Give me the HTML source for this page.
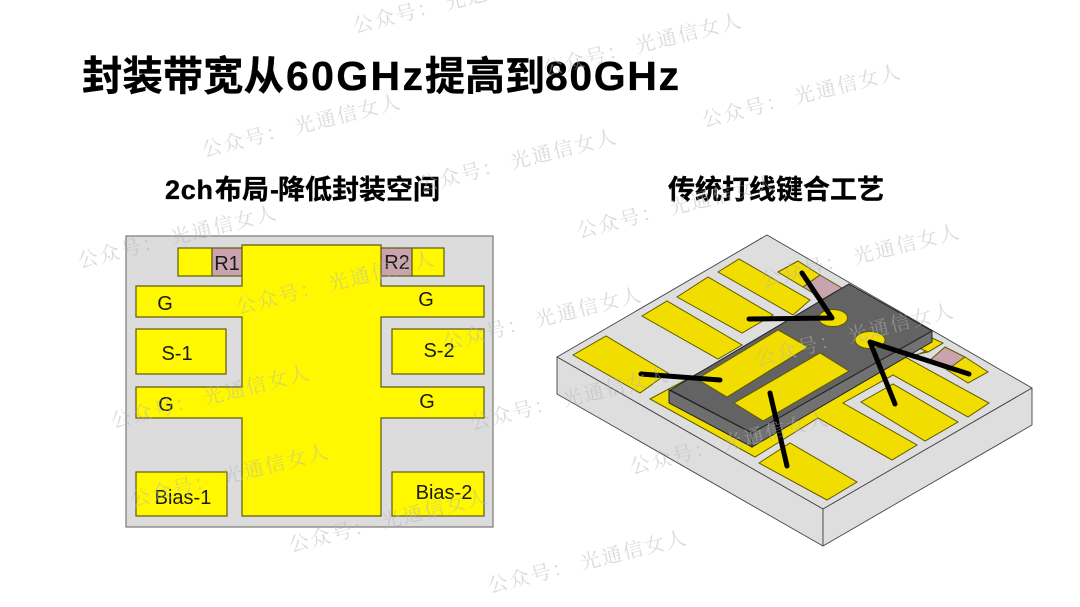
<!DOCTYPE html>
<html lang="zh">
<head>
<meta charset="utf-8">
<title>封装带宽从60GHz提高到80GHz</title>
<style>
html,body{margin:0;padding:0;background:#fff;width:1080px;height:607px;overflow:hidden}
svg{display:block}
text{font-family:"Liberation Sans","Noto Sans CJK SC",sans-serif}
.h{font-weight:700;fill:#000;stroke:#000;stroke-width:.35}
.l{font-size:20px;fill:#1a1a1a;text-anchor:middle}
.w{font-family:"Noto Serif CJK SC","Noto Sans CJK SC",serif;font-size:20px;fill:#b5b5b5;fill-opacity:.5;letter-spacing:2px}
.y2d{fill:#fff800;stroke:#5f5a10;stroke-width:1.2}
.p2d{fill:#c9a3ad;stroke:#5f5a10;stroke-width:1.2}
.y3{fill:#f2dd00;stroke:#5f5a00;stroke-width:1}
.g3{fill:#dedede;stroke:#444;stroke-width:.9;stroke-linejoin:round}
.wire{stroke:#000;stroke-width:5;stroke-linecap:round;stroke-linejoin:round;fill:none}
</style>
</head>
<body>
<svg width="1080" height="607" viewBox="0 0 1080 607" xmlns="http://www.w3.org/2000/svg">
<rect width="1080" height="607" fill="#fff"/>

<text class="h" x="82" y="90" font-size="40.4">封装带宽从</text>
<text class="h" x="286" y="90" font-size="41" textLength="137" lengthAdjust="spacing">60GHz</text>
<text class="h" x="425" y="90" font-size="40">提高到</text>
<text class="h" x="545" y="90" font-size="41" textLength="134" lengthAdjust="spacing">80GHz</text>

<text class="h" x="165" y="199" font-size="27" textLength="48" lengthAdjust="spacing">2ch</text>
<text class="h" x="215" y="199" font-size="27">布局</text>
<text class="h" x="270" y="199" font-size="27">-</text>
<text class="h" x="278" y="199" font-size="27">降低封装空间</text>
<text class="h" x="668" y="199" font-size="27">传统打线键合工艺</text>

<!-- left diagram -->
<rect x="126" y="236" width="367" height="291" fill="#dcdcdc" stroke="#777" stroke-width="1.2"/>
<rect class="y2d" x="178" y="248" width="34" height="28"/>
<rect class="p2d" x="212" y="248" width="30" height="28"/>
<rect class="p2d" x="381" y="248" width="31" height="28"/>
<rect class="y2d" x="412" y="248" width="32" height="28"/>
<polygon class="y2d" points="242,245 381,245 381,286 484,286 484,317 381,317 381,387 484,387 484,418 381,418 381,516 242,516 242,418 136,418 136,387 242,387 242,317 136,317 136,286 242,286"/>
<rect class="y2d" x="136" y="329" width="90" height="45"/>
<rect class="y2d" x="392" y="329" width="92" height="45"/>
<rect class="y2d" x="136" y="472" width="91" height="44"/>
<rect class="y2d" x="392" y="472" width="92" height="44"/>
<text class="l" x="227" y="270">R1</text>
<text class="l" x="397" y="269">R2</text>
<text class="l" x="165" y="310">G</text>
<text class="l" x="426" y="306">G</text>
<text class="l" x="177" y="360">S-1</text>
<text class="l" x="439" y="357">S-2</text>
<text class="l" x="166" y="411">G</text>
<text class="l" x="427" y="408">G</text>
<text class="l" x="183" y="504">Bias-1</text>
<text class="l" x="444" y="499">Bias-2</text>

<!-- right diagram: slab -->
<polygon class="g3" points="767,235 1032,388 823,509 557,357"/>
<polygon class="g3" points="557,357 823,509 823,546 557,394"/>
<polygon class="g3" points="823,509 1032,388 1032,425 823,546"/>

<!-- pads -->
<polygon class="y3" points="573,355 606,336 668,373 640,393"/>
<polygon class="y3" points="642,316 667,301 742,345 718,359"/>
<polygon class="y3" points="677,297 708,277 773,315 742,333"/>
<polygon class="y3" points="718,272 739,259 810,300 793,315"/>
<polygon class="y3" points="778,272 798,261 820,275 803,287"/>
<polygon points="820,275 842,288 823,299 803,287" fill="#c9a3ad" stroke="#5f5a00" stroke-width="1"/>
<polygon class="y3" points="650,399 760,340 917,355 943,343 928,352 905,357 989,403 968,417 893,375 843,403 917,445 892,460 818,418 755,457"/>
<polygon points="945,347 965,357 949,370 928,362" fill="#c9a3ad" stroke="#5f5a00" stroke-width="1"/>
<polygon class="y3" points="965,357 988,372 968,383 947,370"/>
<polygon class="y3" points="932,338 943,343 928,352 917,347"/>
<polygon class="y3" points="861,402 893,384 958,422 925,441"/>
<polygon class="y3" points="759,463 790,443 857,482 827,500"/>

<!-- chip -->
<polygon points="669,390 752,433 752,447 669,403" fill="#6e6e6e" stroke="#222" stroke-width="1"/>
<polygon points="752,433 932,331 932,342 752,447" fill="#727272" stroke="#222" stroke-width="1"/>
<polygon points="670,390 849,284 932,331 752,433" fill="#636363" stroke="#222" stroke-width="1"/>
<polygon class="y3" points="697,379 778,330 808,347 727,397"/>
<polygon class="y3" points="734,403 820,353 849,371 763,421"/>
<ellipse class="y3" cx="833" cy="318" rx="14.5" ry="8.5"/>
<ellipse class="y3" cx="870" cy="340" rx="15" ry="8.5"/>

<!-- wires -->
<path class="wire" d="M641,374 L720,380"/>
<path class="wire" d="M749,319 L832,318 L802,273"/>
<path class="wire" d="M969,374 L870,342 L895,404"/>
<path class="wire" d="M770,393 L787,466"/>

<!-- watermarks -->
<g>
<text class="w" transform="translate(355,33) rotate(-14)">公众号： 光通信女人</text>
<text class="w" transform="translate(545,76) rotate(-14)">公众号： 光通信女人</text>
<text class="w" transform="translate(204,157) rotate(-14)">公众号： 光通信女人</text>
<text class="w" transform="translate(704,127) rotate(-14)">公众号： 光通信女人</text>
<text class="w" transform="translate(420,192) rotate(-14)">公众号： 光通信女人</text>
<text class="w" transform="translate(579,238) rotate(-14)">公众号： 光通信女人</text>
<text class="w" transform="translate(763,287) rotate(-14)">公众号： 光通信女人</text>
<text class="w" transform="translate(80,268) rotate(-14)">公众号： 光通信女人</text>
<text class="w" transform="translate(238,314) rotate(-14)">公众号： 光通信女人</text>
<text class="w" transform="translate(445,350) rotate(-14)">公众号： 光通信女人</text>
<text class="w" transform="translate(757,366) rotate(-14)">公众号： 光通信女人</text>
<text class="w" transform="translate(113,428) rotate(-14)">公众号： 光通信女人</text>
<text class="w" transform="translate(472,430) rotate(-14)">公众号： 光通信女人</text>
<text class="w" transform="translate(132,507) rotate(-14)">公众号： 光通信女人</text>
<text class="w" transform="translate(632,474) rotate(-14)">公众号： 光通信女人</text>
<text class="w" transform="translate(291,552) rotate(-14)">公众号： 光通信女人</text>
<text class="w" transform="translate(490,593) rotate(-14)">公众号： 光通信女人</text>
</g>
</svg>
</body>
</html>
